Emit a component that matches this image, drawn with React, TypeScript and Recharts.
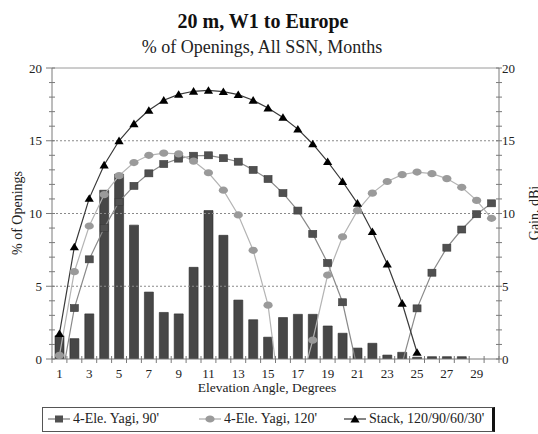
import React from 'react';
import { ComposedChart, Bar, Line, XAxis, YAxis, ReferenceLine } from 'recharts';

const elevation = [1, 2, 3, 4, 5, 6, 7, 8, 9, 10, 11, 12, 13, 14, 15, 16, 17, 18, 19, 20, 21, 22, 23, 24, 25, 26, 27, 28, 29, 30];
const openings = [1.6, 1.4, 3.1, 11.6, 12.7, 9.2, 4.6, 3.2, 3.1, 6.3, 10.2, 8.5, 4.05, 2.7, 1.5, 2.85, 3.07, 3.07, 2.27, 1.77, 0.75, 1.08, 0.27, 0.46, 0.12, 0.16, 0.16, 0.16, 0, 0];
const yagi90 = [-2.2, 3.5, 6.85, 9.0, 10.8, 11.9, 12.76, 13.4, 13.77, 13.97, 14.0, 13.8, 13.56, 13.0, 12.37, 11.4, 10.2, 8.6, 6.6, 3.9, -0.7, -8, -6, -0.3, 3.48, 5.93, 7.65, 8.9, 9.95, 10.7];
const yagi120 = [0.25, 6.0, 9.14, 11.3, 12.6, 13.5, 14.0, 14.15, 14.1, 13.6, 12.8, 11.6, 9.9, 7.47, 3.7, -4.2, -2.5, 1.3, 5.77, 8.4, 10.2, 11.4, 12.2, 12.67, 12.85, 12.74, 12.4, 11.8, 10.9, 9.67];
const stack = [1.74, 7.7, 11.04, 13.33, 15.0, 16.17, 17.09, 17.78, 18.19, 18.4, 18.46, 18.37, 18.17, 17.78, 17.25, 16.6, 15.8, 14.78, 13.56, 12.2, 10.7, 8.75, 6.53, 3.83, 0.45, null, null, null, null, null];
const xLabels = [1, 3, 5, 7, 9, 11, 13, 15, 17, 19, 21, 23, 25, 27, 29];
const gainTicks = [0, 1, 2, 3, 4, 5, 6, 7, 8, 9, 10, 11, 12, 13, 14, 15, 16, 17, 18, 19, 20];
const gridLevels = [5, 10, 15];

const data = elevation.map((e, i) => ({
  x: e,
  openings: openings[i],
  yagi90: yagi90[i],
  yagi120: yagi120[i],
  stack: stack[i],
}));

const FONT = '"Liberation Serif", "Times New Roman", Times, serif';
const AXIS = '#7a7a7a';
const serif = { fontFamily: FONT };

const XTick = (props: any) => {
  const { x, y, payload, index } = props;
  const half = payload && typeof payload.offset === 'number' && payload.offset > 0 ? payload.offset : 7.45;
  const v = payload.value;
  return (
    <g>
      <line x1={x - half} x2={x - half} y1={y - 3} y2={y + 4} stroke={AXIS} />
      {index === elevation.length - 1 && <line x1={x + half} x2={x + half} y1={y - 3} y2={y + 4} stroke={AXIS} />}
      {xLabels.includes(Number(v)) && (
        <text x={x} y={y + 19} textAnchor="middle" fontSize={13} fill="#222" style={serif}>{v}</text>
      )}
    </g>
  );
};

const LeftTick = (props: any) => {
  const { x, y, payload } = props;
  const v = Number(payload.value);
  const major = v % 5 === 0;
  return (
    <g>
      <line x1={x - (major ? 6 : 3)} x2={x + 3} y1={y} y2={y} stroke={AXIS} />
      {major && (
        <text x={x - 10} y={y + 4.5} textAnchor="end" fontSize={13} fill="#222" style={serif}>{v}</text>
      )}
    </g>
  );
};

const RightTick = (props: any) => {
  const { x, y, payload } = props;
  const v = Number(payload.value);
  const major = v % 5 === 0;
  return (
    <g>
      <line x1={x - 3} x2={x + 3} y1={y} y2={y} stroke={AXIS} />
      {major && (
        <text x={x + 3} y={y + 4.5} textAnchor="start" fontSize={13} fill="#222" style={serif}>{v}</text>
      )}
    </g>
  );
};

const valid = (p: any, key: string) => {
  const v = p && p.payload ? p.payload[key] : null;
  return v !== null && v !== undefined && v >= 0 && p.cx != null && p.cy != null;
};

const SquareDot = (p: any) => {
  if (!valid(p, 'yagi90')) return <g key={`sq-${p.index}`} />;
  return <rect key={`sq-${p.index}`} x={p.cx - 4} y={p.cy - 3.5} width={8} height={7} fill="#505050" stroke="#3a3a3a" strokeWidth={0.6} />;
};

const CircleDot = (p: any) => {
  if (!valid(p, 'yagi120')) return <g key={`ci-${p.index}`} />;
  return <ellipse key={`ci-${p.index}`} cx={p.cx} cy={p.cy} rx={4.6} ry={3.6} fill="#9a9a9a" />;
};

const TriDot = (p: any) => {
  if (!valid(p, 'stack')) return <g key={`tr-${p.index}`} />;
  const { cx, cy } = p;
  return <path key={`tr-${p.index}`} d={`M${cx},${cy - 4.2} L${cx + 4.6},${cy + 3.4} L${cx - 4.6},${cy + 3.4} Z`} fill="#000" />;
};

const LegendIcon = ({ kind }: { kind: string }) => (
  <svg width={22} height={10} style={{ display: 'block' }}>
    <line x1={0} x2={22} y1={5} y2={5} stroke={kind === 'sq' ? '#777' : kind === 'ci' ? '#aaa' : '#333'} strokeWidth={1.2} />
    {kind === 'sq' && <rect x={7} y={1.5} width={8} height={7} fill="#505050" />}
    {kind === 'ci' && <ellipse cx={11} cy={5} rx={4.6} ry={3.6} fill="#9a9a9a" />}
    {kind === 'tr' && <path d="M11,0.8 L15.6,8.4 L6.4,8.4 Z" fill="#000" />}
  </svg>
);

const legendItems = [
  { kind: 'sq', label: "4-Ele. Yagi, 90'", icon: 5, text: 30 },
  { kind: 'ci', label: "4-Ele. Yagi, 120'", icon: 156, text: 181 },
  { kind: 'tr', label: "Stack, 120/90/60/30'", icon: 301, text: 326 },
];

export default function App() {
  return (
    <div style={{ position: 'absolute', left: 0, top: 0, width: 538, height: 434, background: '#fff', fontFamily: FONT }}>
      <ComposedChart width={538} height={434} data={data} margin={{ top: 68, right: 9, bottom: 45, left: 22 }}>
        <XAxis
          dataKey="x"
          type="category"
          interval={0}
          height={30}
          tickSize={0}
          tickMargin={0}
          tickLine={false}
          axisLine={{ stroke: AXIS }}
          tick={<XTick />}
        />
        <YAxis
          yAxisId="left"
          orientation="left"
          width={30}
          domain={[0, 20]}
          ticks={gainTicks}
          interval={0}
          tickSize={0}
          tickMargin={0}
          tickLine={false}
          axisLine={{ stroke: AXIS }}
          tick={<LeftTick />}
          allowDataOverflow
        />
        <YAxis
          yAxisId="right"
          orientation="right"
          width={30}
          domain={[0, 20]}
          ticks={gainTicks}
          interval={0}
          tickSize={0}
          tickMargin={0}
          tickLine={false}
          axisLine={{ stroke: AXIS }}
          tick={<RightTick />}
          allowDataOverflow
        />
        {gridLevels.map((g) => (
          <ReferenceLine key={g} yAxisId="left" y={g} stroke="#8a8a8a" strokeDasharray="2 2" />
        ))}
        <ReferenceLine yAxisId="left" y={20} stroke="#9a9a9a" />
        <Bar yAxisId="left" dataKey="openings" barSize={9} fill="#474747" stroke="#2c2c2c" strokeWidth={0.6} isAnimationActive={false} />
        <Line yAxisId="right" type="linear" dataKey="yagi90" stroke="#8a8a8a" strokeWidth={1.2} dot={SquareDot} activeDot={false} isAnimationActive={false} />
        <Line yAxisId="right" type="linear" dataKey="yagi120" stroke="#b4b4b4" strokeWidth={1.2} dot={CircleDot} activeDot={false} isAnimationActive={false} />
        <Line yAxisId="right" type="linear" dataKey="stack" stroke="#3a3a3a" strokeWidth={1.2} dot={TriDot} activeDot={false} isAnimationActive={false} />
      </ComposedChart>
      <svg width={538} height={434} style={{ position: 'absolute', left: 0, top: 0, pointerEvents: 'none' }}>
        <text x={263} y={28} textAnchor="middle" fontSize={20} fontWeight="bold" fill="#111" style={serif}>20 m, W1 to Europe</text>
        <text x={262} y={53} textAnchor="middle" fontSize={18} fill="#222" style={serif}>% of Openings, All SSN, Months</text>
        <text x={267} y={392} textAnchor="middle" fontSize={13.5} fill="#222" style={serif}>Elevation Angle, Degrees</text>
        <text x={22} y={213} transform="rotate(-90 22 213)" textAnchor="middle" fontSize={14} fill="#222" style={serif}>% of Openings</text>
        <text x={539} y={213} transform="rotate(-90 539 213)" textAnchor="middle" fontSize={14} fill="#222" style={serif}>Gain, dBi</text>
      </svg>
      <div style={{ position: 'absolute', left: 42, top: 407, width: 449, height: 23, border: '1px solid #555', borderRightWidth: 3, borderRightColor: '#111', background: '#fff' }}>
        {legendItems.map((it) => (
          <React.Fragment key={it.kind}>
            <div style={{ position: 'absolute', left: it.icon, top: 6 }}>
              <LegendIcon kind={it.kind} />
            </div>
            <div style={{ position: 'absolute', left: it.text, top: 3, fontSize: 14, lineHeight: '16px', color: '#222', whiteSpace: 'nowrap', fontFamily: FONT }}>{it.label}</div>
          </React.Fragment>
        ))}
      </div>
    </div>
  );
}
